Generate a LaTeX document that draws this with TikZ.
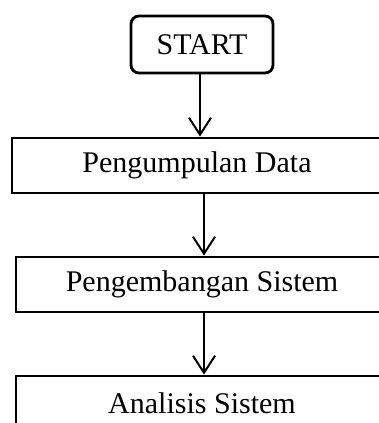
\documentclass[tikz,border=0pt]{standalone}
\usepackage{fontspec}
\setmainfont{Liberation Serif}
\usetikzlibrary{arrows.meta}

\tikzset{
  stepbox/.style={draw, line width=2.8pt, minimum height=55pt, inner sep=0pt,
    font=\fontsize{30}{35}\selectfont},
  startbox/.style={stepbox, rounded corners=8pt, minimum width=142pt, minimum height=57pt},
  flow/.style={line width=2pt, -{Straight Barb[length=17pt,width=22pt,line width=2pt]}}
}

\begin{document}
\begin{tikzpicture}[x=1pt,y=-1pt]
  \useasboundingbox (0,0) rectangle (379,423);
  \clip (0,0) rectangle (379,423);
  \node[startbox] (start) at (202,44.5) {START};
  \node[stepbox, minimum width=370pt] (kumpul) at (197,165.5) {Pengumpulan Data};
  \node[stepbox, minimum width=372pt] (kembang) at (202,284.5) {Pengembangan Sistem};
  \node[stepbox, minimum width=372pt] (analisis) at (202,403.5) {Analisis Sistem};

  \draw[flow] ([xshift=-2pt]start.south) -- ([xshift=-2pt]start.south |- kumpul.north);
  \draw[flow] ([xshift=7pt]kumpul.south) -- ([xshift=7pt]kumpul.south |- kembang.north);
  \draw[flow] ([xshift=2pt]kembang.south) -- ([xshift=2pt]kembang.south |- analisis.north);
\end{tikzpicture}
\end{document}
